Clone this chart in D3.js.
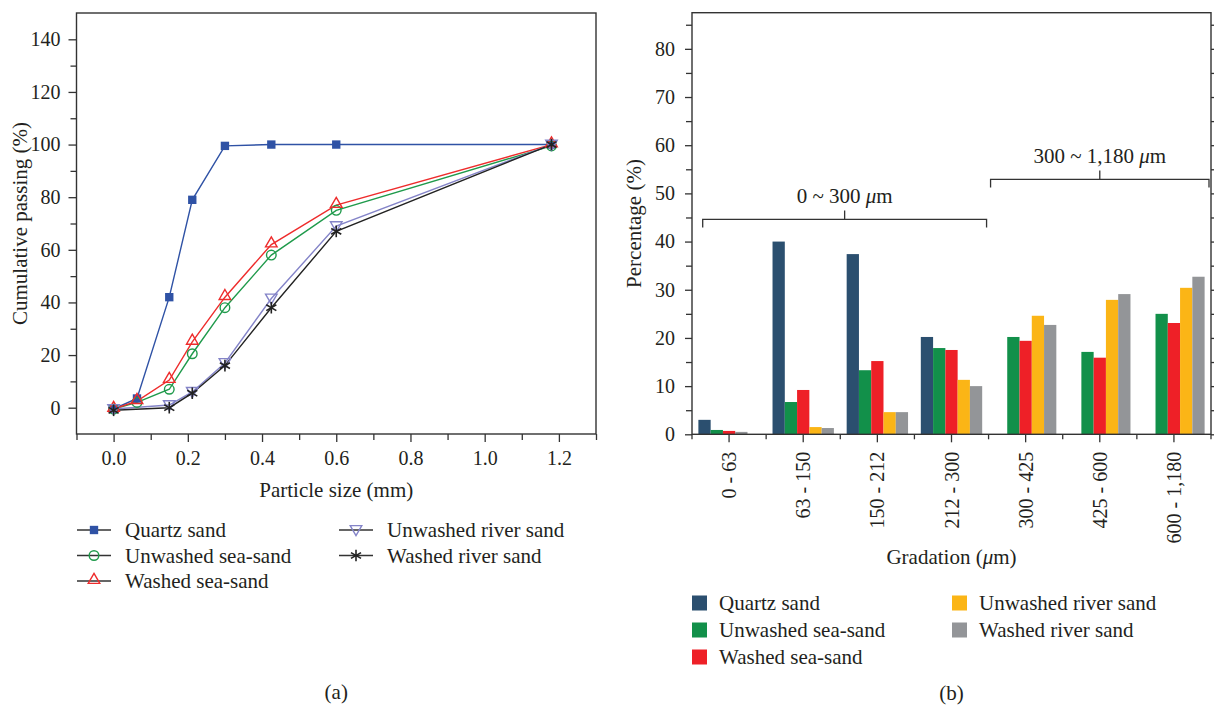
<!DOCTYPE html>
<html>
<head>
<meta charset="utf-8">
<script src="https://cdn.jsdelivr.net/npm/d3@7"></script>
<style>
  body { margin: 0; background: #fff; }
  svg { display: block; font-family: "Liberation Serif", "DejaVu Serif", serif; }
  .tick text { font-size: 20px; fill: #231f20; font-family: "Liberation Serif", serif; }
  .tick line { stroke: #333; stroke-width: 1.3; }
  .lbl { font-size: 21px; fill: #231f20; }
</style>
</head>
<body>
<svg width="1214" height="712"></svg>
<script>
// (a) cumulative passing
const sieveSizes = [0, 0.063, 0.15, 0.212, 0.3, 0.425, 0.6, 1.18];
const quartzPassing = [-0.5, 3.5, 42, 79, 99.5, 100, 100, 100];
const unwashedSeaPassing = [-0.5, 2, 7, 20.5, 38, 58, 75, 99.5];
const washedSeaPassing = [-0.5, 2.5, 10.5, 25, 42, 62, 77, 100];
const unwashedRiverPassing = [-0.5, null, 1, 6, 17, 41.5, 69, 100];
const washedRiverPassing = [-1, null, 0, 5.5, 16, 38, 67, 100];
const passingTicks = [0, 20, 40, 60, 80, 100, 120, 140];
const sizeTicks = [0, 0.2, 0.4, 0.6, 0.8, 1.0, 1.2];

// (b) gradation percentages
const gradations = ["0 - 63", "63 - 150", "150 - 212", "212 - 300", "300 - 425", "425 - 600", "600 - 1,180"];
const quartzPct = [3.0, 40.0, 37.4, 20.2, null, null, null];
const unwashedSeaPct = [0.9, 6.7, 13.3, 17.9, 20.2, 17.1, 25.0];
const washedSeaPct = [0.7, 9.2, 15.2, 17.5, 19.4, 15.9, 23.1];
const unwashedRiverPct = [null, 1.5, 4.6, 11.3, 24.6, 27.9, 30.4];
const washedRiverPct = [0.5, 1.3, 4.6, 10.0, 22.7, 29.1, 32.7];
const pctTicks = [0, 10, 20, 30, 40, 50, 60, 70, 80];
const brackets = [
  { label: "0 ~ 300 ", first: 0, last: 3 },
  { label: "300 ~ 1,180 ", first: 4, last: 6 }
];

const seriesNames = ["Quartz sand", "Unwashed sea-sand", "Washed sea-sand", "Unwashed river sand", "Washed river sand"];

document.addEventListener("DOMContentLoaded", function() {
  const svg = d3.select("svg");
  const ink = "#333";

  //==== chart (a) ====
  const lineColors = ["#2f52a5", "#1f9a4b", "#ee2c2c", "#8484c8", "#222"];
  const passing = [quartzPassing, unwashedSeaPassing, washedSeaPassing, unwashedRiverPassing, washedRiverPassing];

  const ax = d3.scaleLinear().domain([-0.1, 1.3]).range([76.5, 596]);
  const ay = d3.scaleLinear().domain([-10, 150]).range([434, 13]);

  const a = svg.append("g");

  // axes
  a.append("g")
    .attr("transform", `translate(${ax.range()[0]},0)`)
    .call(d3.axisLeft(ay).tickValues(passingTicks).tickSize(8).tickPadding(8))
    .call(g => g.select(".domain").remove());
  a.append("g")
    .attr("transform", `translate(${ax.range()[0]},0)`)
    .call(d3.axisLeft(ay).tickValues(d3.range(10, 140, 20)).tickSize(6).tickFormat(""))
    .call(g => g.select(".domain").remove());
  a.append("g")
    .attr("transform", `translate(0,${ay.range()[0]})`)
    .call(d3.axisBottom(ax).tickValues(sizeTicks).tickSize(8).tickPadding(9).tickFormat(d3.format(".1f")))
    .call(g => g.select(".domain").remove());
  a.append("g")
    .attr("transform", `translate(0,${ay.range()[0]})`)
    .call(d3.axisBottom(ax).tickValues(d3.range(-0.1, 1.35, 0.2)).tickSize(6).tickFormat(""))
    .call(g => g.select(".domain").remove());

  a.append("rect")
    .attr("x", ax.range()[0]).attr("y", ay.range()[1])
    .attr("width", ax.range()[1] - ax.range()[0])
    .attr("height", ay.range()[0] - ay.range()[1])
    .attr("fill", "none").attr("stroke", ink).attr("stroke-width", 1.4);

  // axis labels
  a.append("text").attr("class", "lbl")
    .attr("text-anchor", "middle")
    .attr("transform", `translate(27,${(ay.range()[0] + ay.range()[1]) / 2}) rotate(-90)`)
    .text("Cumulative passing (%)");
  a.append("text").attr("class", "lbl")
    .attr("text-anchor", "middle")
    .attr("x", (ax.range()[0] + ax.range()[1]) / 2).attr("y", 497)
    .text("Particle size (mm)");

  // markers
  function marker(g, i, color) {
    if (i === 0) {
      g.append("path").attr("d", d3.symbol(d3.symbolSquare, 70)()).attr("fill", color);
    } else if (i === 1) {
      g.append("circle").attr("r", 4.8).attr("fill", "none").attr("stroke", color).attr("stroke-width", 1.4);
    } else if (i === 2) {
      g.append("path").attr("d", d3.symbol(d3.symbolTriangle, 58)())
        .attr("transform", "translate(0,-1)")
        .attr("fill", "none").attr("stroke", color).attr("stroke-width", 1.4);
    } else if (i === 3) {
      g.append("path").attr("d", d3.symbol(d3.symbolTriangle, 58)())
        .attr("transform", "translate(0,-1) rotate(180)")
        .attr("fill", "none").attr("stroke", color).attr("stroke-width", 1.4);
    } else {
      [90, 30, -30].forEach(ang => {
        const r = 5.8, t = ang * Math.PI / 180;
        g.append("line")
          .attr("x1", -r * Math.cos(t)).attr("y1", -r * Math.sin(t))
          .attr("x2", r * Math.cos(t)).attr("y2", r * Math.sin(t))
          .attr("stroke", color).attr("stroke-width", 1.6);
      });
    }
  }

  const line = d3.line().x(d => ax(d[0])).y(d => ay(d[1]));

  passing.forEach((vals, i) => {
    const pts = sieveSizes.map((s, j) => [s, vals[j]]).filter(d => d[1] != null);
    a.append("path")
      .attr("d", line(pts))
      .attr("fill", "none")
      .attr("stroke", lineColors[i])
      .attr("stroke-width", 1.4);
  });
  passing.forEach((vals, i) => {
    const pts = sieveSizes.map((s, j) => [s, vals[j]]).filter(d => d[1] != null);
    pts.forEach(p => {
      const g = a.append("g").attr("transform", `translate(${ax(p[0])},${ay(p[1])})`);
      marker(g, i, lineColors[i]);
    });
  });

  // legend (a)
  const legA = [[94, 530], [94, 555.5], [94, 581], [356, 530], [356, 555.5]];
  seriesNames.forEach((name, i) => {
    const g = a.append("g").attr("transform", `translate(${legA[i][0]},${legA[i][1]})`);
    g.append("line").attr("x1", -17).attr("x2", 17).attr("stroke", ink).attr("stroke-width", 1.3);
    marker(g, i, lineColors[i]);
    g.append("text").attr("class", "lbl")
      .attr("x", 31).attr("dy", "0.35em")
      .text(name);
  });

  a.append("text").attr("class", "lbl")
    .attr("text-anchor", "middle")
    .attr("x", (ax.range()[0] + ax.range()[1]) / 2).attr("y", 699)
    .text("(a)");

  //==== chart (b) ====
  const barColors = ["#2b4f6f", "#12904a", "#ee2027", "#fbb516", "#939598"];
  const pcts = [quartzPct, unwashedSeaPct, washedSeaPct, unwashedRiverPct, washedRiverPct];

  const bx = d3.scaleBand().domain(gradations).range([692, 1211]);
  const bsub = d3.scaleBand().domain(d3.range(5)).range([0, bx.bandwidth()]).paddingOuter(0.52);
  const by = d3.scaleLinear().domain([0, 87.5]).range([434.3, 12.7]);

  const b = svg.append("g");

  // bars; a missing series leaves its slot free for the next one only in the first group
  gradations.forEach((gr, gi) => {
    let slot = 0;
    pcts.forEach((vals, si) => {
      const v = vals[gi];
      if (v == null) {
        if (gi > 0) slot++;
        return;
      }
      b.append("rect")
        .attr("x", bx(gr) + bsub(slot))
        .attr("y", by(v))
        .attr("width", bsub.bandwidth())
        .attr("height", by(0) - by(v))
        .attr("fill", barColors[si]);
      slot++;
    });
  });

  // axes
  b.append("g")
    .attr("transform", `translate(${bx.range()[0]},0)`)
    .call(d3.axisLeft(by).tickValues(pctTicks).tickSize(7).tickPadding(10))
    .call(g => g.select(".domain").remove());
  b.append("g")
    .attr("transform", `translate(${bx.range()[0]},0)`)
    .call(d3.axisLeft(by).tickValues(d3.range(5, 90, 10)).tickSize(6).tickFormat(""))
    .call(g => g.select(".domain").remove());
  b.append("g")
    .attr("transform", `translate(${bx.range()[1]},0)`)
    .call(d3.axisRight(by).tickValues(d3.range(0, 90, 5)).tickSize(5).tickFormat(""))
    .call(g => g.select(".domain").remove());

  const xAxisB = b.append("g")
    .attr("transform", `translate(0,${by(0)})`)
    .call(d3.axisBottom(bx).tickSize(8))
    .call(g => g.select(".domain").remove());
  xAxisB.selectAll(".tick text")
    .attr("transform", "rotate(-90)")
    .attr("text-anchor", "end")
    .attr("x", -17.5)
    .attr("y", 0)
    .attr("dy", "0.35em");
  // band boundary ticks
  b.append("g")
    .selectAll("line")
    .data(gradations.map(g => bx(g)).concat([bx.range()[1]]))
    .enter()
    .append("line")
    .attr("x1", d => d).attr("x2", d => d)
    .attr("y1", by(0)).attr("y2", by(0) + 5)
    .attr("stroke", ink).attr("stroke-width", 1.3);

  b.append("rect")
    .attr("x", bx.range()[0]).attr("y", by.range()[1])
    .attr("width", bx.range()[1] - bx.range()[0])
    .attr("height", by.range()[0] - by.range()[1])
    .attr("fill", "none").attr("stroke", ink).attr("stroke-width", 1.4);

  // brackets
  const bracketLevels = [44.6, 52.9];
  brackets.forEach((br, i) => {
    const x1 = i === 0 ? bx(gradations[br.first]) + 10.7 : bx(gradations[br.first]) + 2;
    const x2 = bx(gradations[br.last]) + bx.bandwidth() - 2;
    const yl = by(bracketLevels[i]);
    const xm = (x1 + x2) / 2;
    b.append("path")
      .attr("d", `M${x1},${yl + 8}V${yl}H${x2}V${yl + 8}M${xm},${yl}V${yl - 9}`)
      .attr("fill", "none").attr("stroke", ink).attr("stroke-width", 1.3);
    const t = b.append("text").attr("class", "lbl")
      .attr("text-anchor", "middle")
      .attr("x", xm).attr("y", yl - 16);
    t.append("tspan").text(br.label);
    t.append("tspan").attr("font-style", "italic").text("μ");
    t.append("tspan").text("m");
  });

  // axis labels
  b.append("text").attr("class", "lbl")
    .attr("text-anchor", "middle")
    .attr("transform", `translate(641,${(by.range()[0] + by.range()[1]) / 2}) rotate(-90)`)
    .text("Percentage (%)");
  const gl = b.append("text").attr("class", "lbl")
    .attr("text-anchor", "middle")
    .attr("x", (bx.range()[0] + bx.range()[1]) / 2).attr("y", 564);
  gl.append("tspan").text("Gradation (");
  gl.append("tspan").attr("font-style", "italic").text("μ");
  gl.append("tspan").text("m)");

  // legend (b)
  const legB = [[692, 603], [692, 630], [692, 657], [952, 603], [952, 630]];
  seriesNames.forEach((name, i) => {
    const g = b.append("g").attr("transform", `translate(${legB[i][0]},${legB[i][1]})`);
    g.append("rect").attr("x", 0).attr("y", -7.5).attr("width", 15).attr("height", 15).attr("fill", barColors[i]);
    g.append("text").attr("class", "lbl")
      .attr("x", 27).attr("dy", "0.35em")
      .text(name);
  });

  b.append("text").attr("class", "lbl")
    .attr("text-anchor", "middle")
    .attr("x", (bx.range()[0] + bx.range()[1]) / 2).attr("y", 700)
    .text("(b)");
});
</script>
</body>
</html>
